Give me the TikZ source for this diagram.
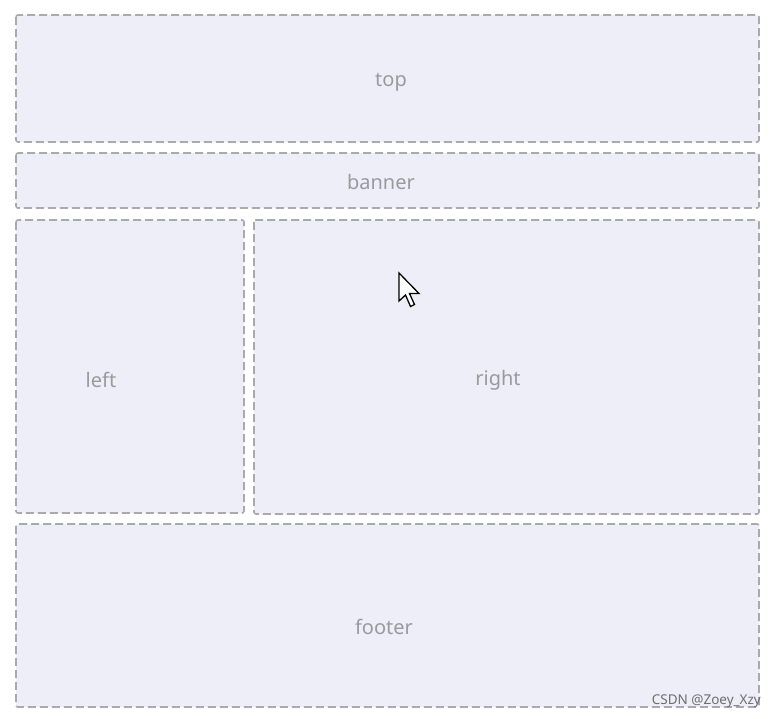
\documentclass[tikz,border=0pt]{standalone}
\usepackage{fontspec}
\setmainfont{Noto Sans}
\definecolor{boxfill}{HTML}{EEEEF8}
\definecolor{boxline}{HTML}{A9A9AE}
\definecolor{labelgray}{HTML}{9A9A9E}
\definecolor{markgray}{HTML}{6E6E6E}
\begin{document}
\begin{tikzpicture}[x=1pt,y=-1pt,
  region/.style={fill=boxfill,draw=boxline,line width=1.6pt,dash pattern=on 8pt off 4pt,rounded corners=2pt},
  lbl/.style={text=labelgray,font=\fontsize{20}{22}\selectfont,inner sep=0pt,anchor=center}]
\useasboundingbox[fill=white] (0,0) rectangle (775,718);
\draw[region] (16,15) rectangle (759,142);
\draw[region] (16,153) rectangle (759,208);
\draw[region] (16,220) rectangle (244,513);
\draw[region] (254,220) rectangle (759,514);
\draw[region] (16,524) rectangle (759,707);
\node[lbl] (top) at (391,82) {top};
\node[lbl] (banner) at (381,182) {banner};
\node[lbl] (left) at (101,380) {left};
\node[lbl] (right) at (498,380) {right};
\node[lbl] (footer) at (384,627) {footer};
% cursor
\draw[fill=white,draw=black,line width=1.3pt,line join=miter]
  (399,273) -- (399,301) -- (405.5,295) -- (410.5,306.5) -- (414.5,304.5) -- (409.5,293.5) -- (419,293.5) -- cycle;
\node[text=markgray,font=\fontsize{13.5}{15}\selectfont,anchor=east,inner sep=0pt] (mark) at (761,701) {CSDN @Zoey\_Xzy};
\end{tikzpicture}
\end{document}
